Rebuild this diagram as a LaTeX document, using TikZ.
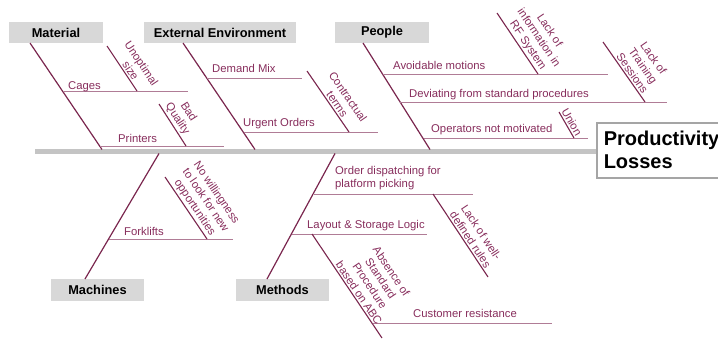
\documentclass[tikz,border=0pt]{standalone}
\usepackage{fontspec}
\setmainfont{Liberation Sans}
\usetikzlibrary{calc}
\definecolor{bone}{RGB}{122,38,78}
\definecolor{labtxt}{RGB}{135,45,92}
\definecolor{hbone}{RGB}{176,124,150}
\definecolor{catfill}{RGB}{216,216,216}
\definecolor{spinegray}{RGB}{196,196,196}
\definecolor{framegray}{RGB}{165,165,165}
\begin{document}
\begin{tikzpicture}[x=1pt,y=-1pt,
  cat/.style={fill=catfill, minimum width=#1, minimum height=21pt, inner sep=0pt,
    font=\bfseries\fontsize{12.8}{15}\selectfont},
  effect/.style={draw=framegray, line width=1.5pt, fill=white, align=left,
    text width=130pt, minimum height=55pt, inner xsep=7pt, inner ysep=0pt,
    font=\bfseries\fontsize{20}{23}\selectfont},
  spine/.style={draw=spinegray, line width=4.5pt},
  mainbone/.style={draw=bone, line width=1.2pt},
  slant/.style={draw=bone, line width=1.1pt},
  hsub/.style={draw=hbone, line width=1pt},
  hlab/.style={anchor=base west, inner sep=0pt, text=labtxt,
    font=\fontsize{11.3}{13}\selectfont},
  rlab/.style={sloped, anchor=south, inner sep=1.5pt, align=center, text=labtxt,
    font=\fontsize{11.3}{13}\selectfont}
]
\useasboundingbox (0,0) rectangle (718,340);

% spine and effect
\coordinate (sp0) at (35,151.5);
\node[effect, anchor=north west] (eff) at (596,122) {Productivity\\Losses};
\draw[spine] (sp0) -- (sp0 -| eff.west);

% category boxes
\node[cat=94pt] (mat) at (56,32.5) {Material};
\node[cat=152pt] (ext) at (220,32.5) {External Environment};
\node[cat=94pt] (peo) at (382,32.5) {People};
\node[cat=93pt, minimum height=22pt] (mac) at (97.5,290) {Machines};
\node[cat=93pt, minimum height=22pt] (met) at (282.5,290) {Methods};

% main bones
\coordinate (matA) at (30,43);   \coordinate (matB) at (102,149.5);
\coordinate (extA) at (183,43);  \coordinate (extB) at (255,149.5);
\coordinate (peoA) at (363,43);  \coordinate (peoB) at (430,149.5);
\coordinate (macA) at (159,153.5); \coordinate (macB) at (85,279);
\coordinate (metA) at (335,153.5); \coordinate (metB) at (267,279);
\draw[mainbone] (matA) -- (matB);
\draw[mainbone] (extA) -- (extB);
\draw[mainbone] (peoA) -- (peoB);
\draw[mainbone] (macA) -- (macB);
\draw[mainbone] (metA) -- (metB);

% ---- Material
\coordinate (cagA) at (63,91);   \coordinate (cagB) at (188,91);
\coordinate (prnA) at (100,146); \coordinate (prnB) at (224,146);
\draw[hsub] (cagA) -- (cagB);
\draw[hsub] (prnA) -- (prnB);
\node[hlab] (cagL) at (68,89) {Cages};
\node[hlab] (prnL) at (118,142) {Printers};
\coordinate (unoA) at (107,46);  \coordinate (unoB) at (137,91);
\coordinate (badA) at (159,104); \coordinate (badB) at (186,146);
\draw[slant] (unoA) -- (unoB) node[rlab, pos=0.62] (unoL) {Unoptimal\\size};
\draw[slant] (badA) -- (badB) node[rlab, pos=0.45] (badL) {Bad\\Quality};

% ---- External Environment
\coordinate (demA) at (207,78);  \coordinate (demB) at (302,78);
\coordinate (urgA) at (244,132); \coordinate (urgB) at (378,132);
\draw[hsub] (demA) -- (demB);
\draw[hsub] (urgA) -- (urgB);
\node[hlab] (demL) at (212,72) {Demand Mix};
\node[hlab] (urgL) at (243,126) {Urgent Orders};
\coordinate (conA) at (307,71);  \coordinate (conB) at (349,132);
\draw[slant] (conA) -- (conB) node[rlab, pos=0.6] (conL) {Contractual\\terms};

% ---- People
\coordinate (avoA) at (383,74);  \coordinate (avoB) at (608,74);
\coordinate (devA) at (400,102); \coordinate (devB) at (667,102);
\coordinate (opeA) at (424,138); \coordinate (opeB) at (588,138);
\draw[hsub] (avoA) -- (avoB);
\draw[hsub] (devA) -- (devB);
\draw[hsub] (opeA) -- (opeB);
\node[hlab] (avoL) at (393,69) {Avoidable motions};
\node[hlab] (devL) at (409,97) {Deviating from standard procedures};
\node[hlab] (opeL) at (431,132) {Operators not motivated};
\coordinate (infA) at (497,13);  \coordinate (infB) at (538,74);
\coordinate (trnA) at (603,42);  \coordinate (trnB) at (645,102);
\coordinate (uniA) at (559,112); \coordinate (uniB) at (574,138);
\draw[slant] (infA) -- (infB) node[rlab, pos=0.6] (infL) {Lack of\\information in\\RF System};
\draw[slant] (trnA) -- (trnB) node[rlab, pos=0.58] (trnL) {Lack of\\Training\\Sessions};
\draw[slant] (uniA) -- (uniB) node[rlab, pos=0.5] (uniL) {Union};

% ---- Machines
\coordinate (forA) at (109,239); \coordinate (forB) at (233,239);
\draw[hsub] (forA) -- (forB);
\node[hlab] (forL) at (124,235) {Forklifts};
\coordinate (wilA) at (165,177); \coordinate (wilB) at (207,239);
\draw[slant] (wilA) -- (wilB) node[rlab, pos=0.56] (wilL) {No willingness\\to look for new\\opportunities};

% ---- Methods
\coordinate (ordA) at (314,194); \coordinate (ordB) at (473,194);
\coordinate (layA) at (292,234); \coordinate (layB) at (427,234);
\coordinate (cusA) at (373,323); \coordinate (cusB) at (552,323);
\draw[hsub] (ordA) -- (ordB);
\draw[hsub] (layA) -- (layB);
\draw[hsub] (cusA) -- (cusB);
\node[hlab, anchor=south west, align=left] (ordL) at (335,189.6) {Order dispatching for\\platform picking};
\node[hlab] (layL) at (307,228) {Layout \& Storage Logic};
\node[hlab] (cusL) at (413,317) {Customer resistance};
\coordinate (rulA) at (433,194); \coordinate (rulB) at (488,277);
\coordinate (absA) at (312,234); \coordinate (absB) at (382,338);
\draw[slant] (rulA) -- (rulB) node[rlab, pos=0.59] (rulL) {Lack of well-\\defined rules};
\draw[slant] (absA) -- (absB) node[rlab, pos=0.6] (absL) {Absence of\\Standard\\Procedure\\based on ABC};
\end{tikzpicture}
\end{document}
